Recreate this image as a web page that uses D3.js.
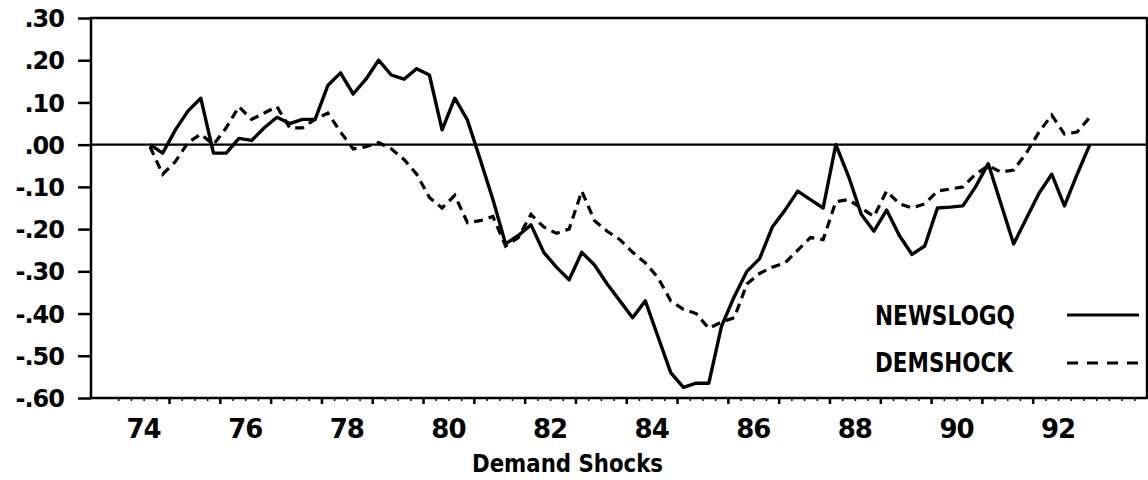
<!DOCTYPE html>
<html>
<head>
<meta charset="utf-8">
<script src="https://cdn.jsdelivr.net/npm/d3@7"></script>
<style>
  body { margin: 0; background: #fff; }
  svg { display: block; }
  text { font-family: "DejaVu Sans", sans-serif; font-weight: bold; fill: #000; }
</style>
</head>
<body>
<div id="chart"></div>
<script>
// quarterly data, first observation 1974 Q3, last 1993 Q1
const firstYear = 74
const firstQuarter = 3

const newslogq = [
  0.00, -0.02,                       // 74
  0.035, 0.08, 0.11, -0.02,          // 75
  -0.02, 0.015, 0.01, 0.04,          // 76
  0.065, 0.05, 0.06, 0.06,           // 77
  0.14, 0.17, 0.12, 0.155,           // 78
  0.20, 0.165, 0.155, 0.18,          // 79
  0.165, 0.035, 0.11, 0.058,         // 80
  -0.035, -0.13, -0.235, -0.215,     // 81
  -0.19, -0.255, -0.29, -0.32,       // 82
  -0.255, -0.285, -0.33, -0.37,      // 83
  -0.41, -0.37, -0.455, -0.54,       // 84
  -0.575, -0.565, -0.565, -0.43,     // 85
  -0.36, -0.30, -0.27, -0.195,       // 86
  -0.155, -0.11, -0.13, -0.15,       // 87
  0.00, -0.075, -0.165, -0.205,      // 88
  -0.155, -0.215, -0.26, -0.24,      // 89
  -0.15, -0.148, -0.145, -0.10,      // 90
  -0.045, -0.14, -0.235, -0.175,     // 91
  -0.115, -0.07, -0.145, -0.07,      // 92
  0.00                               // 93
]

const demshock = [
  -0.005, -0.07,
  -0.04, 0.005, 0.025, 0.0,
  0.04, 0.09, 0.06, 0.075,
  0.09, 0.04, 0.04, 0.06,
  0.075, 0.03, -0.01, -0.005,
  0.005, -0.01, -0.035, -0.07,
  -0.125, -0.15, -0.12, -0.185,
  -0.18, -0.17, -0.24, -0.22,
  -0.165, -0.195, -0.21, -0.20,
  -0.11, -0.18, -0.205, -0.225,
  -0.255, -0.28, -0.315, -0.37,
  -0.39, -0.40, -0.435, -0.42,
  -0.41, -0.33, -0.305, -0.29,
  -0.28, -0.25, -0.22, -0.225,
  -0.135, -0.13, -0.15, -0.17,
  -0.11, -0.14, -0.15, -0.14,
  -0.11, -0.105, -0.10, -0.07,
  -0.05, -0.065, -0.06, -0.02,
  0.03, 0.07, 0.025, 0.03,
  0.065
]

const yTickValues = [0.3, 0.2, 0.1, 0.0, -0.1, -0.2, -0.3, -0.4, -0.5, -0.6]
const yTickLabels = [".30", ".20", ".10", ".00", "-.10", "-.20", "-.30", "-.40", "-.50", "-.60"]
const xLabelYears = [74, 76, 78, 80, 82, 84, 86, 88, 90, 92]
const seriesNames = ["NEWSLOGQ", "DEMSHOCK"]
const axisTitle = "Demand Shocks"

var width = 1148
var height = 480

// plot frame (pixels)
var plotLeft = 91, plotRight = 1147, plotTop = 18, plotBottom = 398

var x = d3.scaleLinear().domain([73.464, 94.25]).range([plotLeft, plotRight])
var y = d3.scaleLinear().domain([-0.6, 0.3]).range([plotBottom, plotTop])

// each quarter sits in the middle of its quarter of the year
function quarterPos(i) {
  var k = firstQuarter - 1 + i
  return firstYear + Math.floor(k / 4) + ((k % 4) + 0.5) / 4
}

var svg = d3.select("#chart").append("svg")
  .attr("width", width)
  .attr("height", height)

// frame
svg.append("rect")
  .attr("x", plotLeft).attr("y", plotTop)
  .attr("width", plotRight - plotLeft).attr("height", plotBottom - plotTop)
  .attr("fill", "none").attr("stroke", "#000").attr("stroke-width", 2.5)

// zero line
svg.append("line")
  .attr("x1", plotLeft).attr("x2", plotRight)
  .attr("y1", y(0)).attr("y2", y(0))
  .attr("stroke", "#000").attr("stroke-width", 2.2)

// y axis
var yAxis = svg.append("g")
  .attr("transform", "translate(" + plotLeft + ",0)")
  .call(d3.axisLeft(y).tickValues(yTickValues).tickSize(13).tickFormat(function (d, i) { return yTickLabels[i] }))
yAxis.select(".domain").remove()
yAxis.selectAll(".tick line").attr("stroke-width", 2.5)
yAxis.selectAll(".tick text")
  .attr("x", -27)
  .attr("dy", "0.36em")
  .style("font-size", "24px")
  .style("letter-spacing", "-1px")
  .style("font-family", "DejaVu Sans")
  .style("font-weight", "bold")

// x axis: quarter ticks and year ticks
var quarterTicks = d3.range(74, 94.01, 0.25)
svg.append("g")
  .attr("transform", "translate(0," + plotBottom + ")")
  .call(d3.axisBottom(x).tickValues(quarterTicks).tickSize(3).tickFormat(""))
  .call(function (g) { g.select(".domain").remove() })
  .selectAll(".tick line").attr("stroke-width", 1.5)

var yearTicks = d3.range(75, 93)
svg.append("g")
  .attr("transform", "translate(0," + plotBottom + ")")
  .call(d3.axisBottom(x).tickValues(yearTicks).tickSize(6).tickFormat(""))
  .call(function (g) { g.select(".domain").remove() })
  .selectAll(".tick line").attr("stroke-width", 2.5)

svg.append("g").selectAll("text")
  .data(xLabelYears)
  .enter().append("text")
  .attr("x", function (d) { return x(d + 0.5) })
  .attr("y", 438)
  .attr("text-anchor", "middle")
  .style("font-size", "26px")
  .style("letter-spacing", "-1px")
  .text(function (d) { return d })

svg.append("text")
  .attr("x", 472).attr("y", 472)
  .attr("textLength", 191).attr("lengthAdjust", "spacingAndGlyphs")
  .style("font-size", "25px")
  .text(axisTitle)

// series
var line = d3.line()
  .x(function (d, i) { return x(quarterPos(i)) })
  .y(function (d) { return y(d) })

svg.append("path")
  .datum(newslogq)
  .attr("d", line)
  .attr("fill", "none").attr("stroke", "#000")
  .attr("stroke-width", 3.4).attr("stroke-linejoin", "round")

svg.append("path")
  .datum(demshock)
  .attr("d", line)
  .attr("fill", "none").attr("stroke", "#000")
  .attr("stroke-width", 3.2).attr("stroke-dasharray", "9,6")

// legend
var legend = svg.append("g")
legend.selectAll("text")
  .data(seriesNames)
  .enter().append("text")
  .attr("x", 875)
  .attr("y", function (d, i) { return 325 + i * 47 })
  .attr("textLength", function (d, i) { return i == 0 ? 140 : 138 })
  .attr("lengthAdjust", "spacingAndGlyphs")
  .style("font-size", "26px")
  .text(function (d) { return d })

legend.selectAll("line")
  .data(seriesNames)
  .enter().append("line")
  .attr("x1", 1067).attr("x2", 1139)
  .attr("y1", function (d, i) { return 315 + i * 48 })
  .attr("y2", function (d, i) { return 315 + i * 48 })
  .attr("stroke", "#000").attr("stroke-width", 3)
  .attr("stroke-dasharray", function (d, i) { return i == 0 ? null : "11,9" })
</script>
</body>
</html>
